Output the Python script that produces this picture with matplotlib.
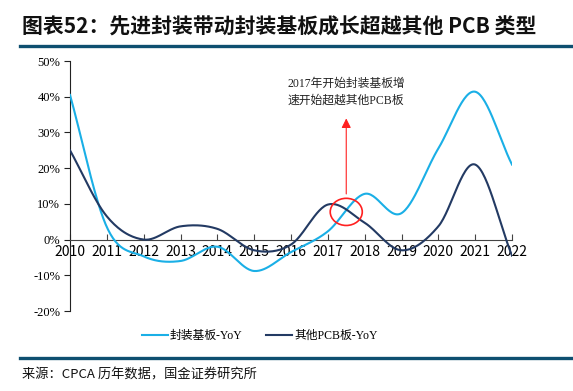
import matplotlib
matplotlib.use("Agg")
import matplotlib.pyplot as plt
from matplotlib.patches import Ellipse
import numpy as np

# data (YoY growth, %)
years = [2010, 2011, 2012, 2013, 2014, 2015, 2016, 2017, 2018, 2019, 2020, 2021, 2022]
substrate_yoy = [40.5, 3.5, -4.7, -6.0, -2.0, -8.8, -3.5, 2.3, 12.8, 7.4, 25.5, 41.4, 21.0]
other_pcb_yoy = [25.0, 6.5, 0.0, 3.7, 3.0, -3.0, -1.4, 9.8, 4.7, -3.0, 3.7, 21.0, -4.5]
y_ticks = [-20, -10, 0, 10, 20, 30, 40, 50]

series_names = ["封装基板-YoY", "其他PCB板-YoY"]
note_text = "2017年开始封装基板增\n速开始超越其他PCB板"
title_text = "图表52：先进封装带动封装基板成长超越其他 PCB 类型"
source_text = "来源：CPCA 历年数据，国金证券研究所"

serif_cjk = ["Liberation Serif", "Noto Sans CJK SC"]
plt.rcParams["font.family"] = ["Noto Sans CJK SC", "DejaVu Sans"]


def smooth(x, y, n=30):
    # catmull-rom style smoothing like the Excel "smoothed line"
    x = np.asarray(x, float)
    y = np.asarray(y, float)
    px = np.concatenate([[2 * x[0] - x[1]], x, [2 * x[-1] - x[-2]]])
    py = np.concatenate([[2 * y[0] - y[1]], y, [2 * y[-1] - y[-2]]])
    xs, ys = [], []
    for i in range(1, len(px) - 2):
        t = np.linspace(0, 1, n, endpoint=False)
        for p, out in ((px, xs), (py, ys)):
            p0, p1, p2, p3 = p[i - 1], p[i], p[i + 1], p[i + 2]
            out.extend(0.5 * (2 * p1 + (-p0 + p2) * t
                              + (2 * p0 - 5 * p1 + 4 * p2 - p3) * t ** 2
                              + (-p0 + 3 * p1 - 3 * p2 + p3) * t ** 3))
    xs.append(x[-1])
    ys.append(y[-1])
    return np.array(xs), np.array(ys)


fig = plt.figure(figsize=(5.73, 3.91), dpi=100)
ax = fig.add_axes([70 / 573, 1 - 311 / 391, 442 / 573, 250 / 391])

sx, sy = smooth(years, substrate_yoy)
ox, oy = smooth(years, other_pcb_yoy)
l1, = ax.plot(sx, sy, color="#1AAFE6", lw=1.5, label=series_names[0], zorder=3)
l2, = ax.plot(ox, oy, color="#233A63", lw=1.5, label=series_names[1], zorder=3)

ax.set_xlim(2010, 2022)
ax.set_ylim(-20, 50)
ax.set_yticks(y_ticks)
ax.set_yticklabels([f"{v}%" for v in y_ticks], family=serif_cjk, fontsize=9)
ax.set_xticks(years)
ax.set_xticklabels([str(y) for y in years], family=serif_cjk, fontsize=9)

for s in ["top", "right"]:
    ax.spines[s].set_visible(False)
ax.spines["bottom"].set_position(("data", 0))
ax.spines["left"].set_color("#222222")
ax.spines["bottom"].set_color("#444444")
ax.tick_params(axis="x", direction="in", length=4, pad=4, color="#444444")
ax.tick_params(axis="y", direction="out", length=4, pad=3, color="#222222")

# annotation
ax.add_patch(Ellipse((2017.5, 7.75), 0.87, 7.6, fill=False, ec="#FF2020", lw=1.2, zorder=4))
ax.annotate("", xy=(2017.5, 34.7), xytext=(2017.5, 12.0),
            arrowprops=dict(arrowstyle="-|>", color="#FF2020", lw=0.8, mutation_scale=14))
ax.text(2017.5, 41.3, note_text, ha="center", va="center", fontsize=8.5,
        family=serif_cjk, color="#222222", linespacing=1.5)

fig.legend(handles=[l1, l2], loc="center", bbox_to_anchor=(260 / 573, 1 - 336 / 391),
           ncol=2, frameon=False, handlelength=2.2, handletextpad=0.2, columnspacing=2.0,
           prop={"family": serif_cjk, "size": 8.5})

# title, rules and source
fig.text(22 / 573, 1 - 27 / 391, title_text, fontsize=15, fontweight="bold",
         ha="left", va="center", color="#111111", style="italic")
fig.add_artist(plt.Line2D([20 / 573, 1], [1 - 46 / 391] * 2, color="#0E4F70", lw=2.4))
fig.add_artist(plt.Line2D([20 / 573, 1], [1 - 358 / 391] * 2, color="#0E4F70", lw=2.4))
fig.text(22 / 573, 1 - 375 / 391, source_text, fontsize=9.5, ha="left", va="center",
         color="#111111")

fig.savefig("out.png", dpi=100)
